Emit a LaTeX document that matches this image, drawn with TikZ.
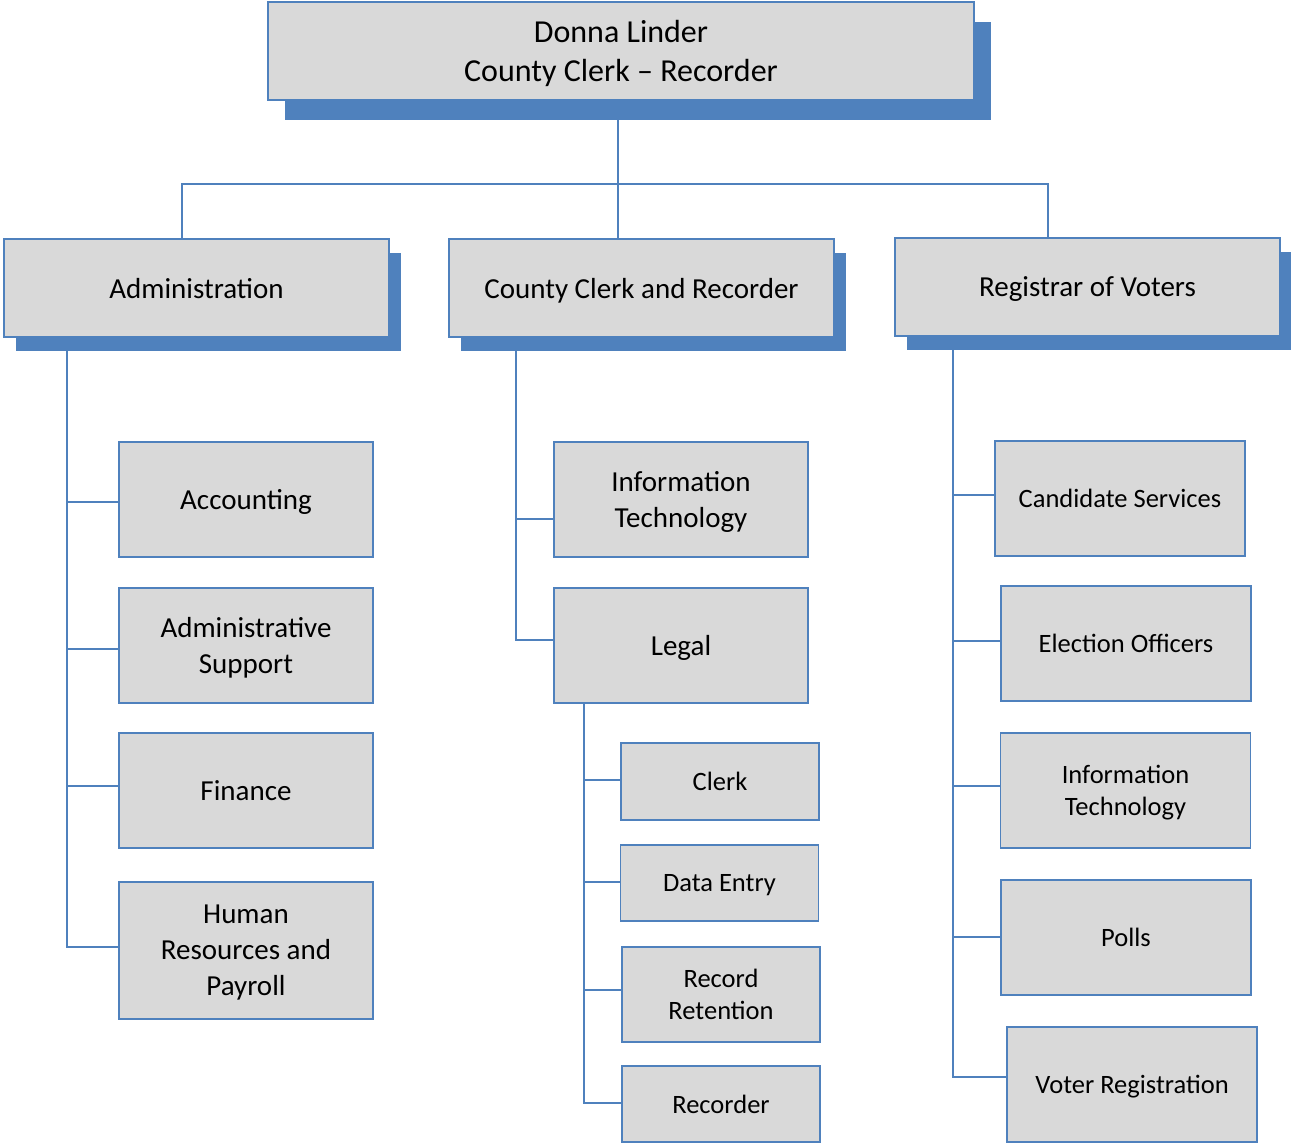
\documentclass[tikz,border=0pt]{standalone}
\usepackage{fontspec}
\setmainfont{Carlito}
\usepackage{tikz}
\usetikzlibrary{shadows,backgrounds}
\definecolor{ocblue}{HTML}{4F81BD}
\definecolor{ocgray}{HTML}{D9D9D9}

\begin{document}
\begin{tikzpicture}[
  x=1pt, y=-1pt,
  box/.style={draw=ocblue, line width=1.6pt, fill=ocgray, align=center, inner sep=0pt, text depth=0pt, font=\fontsize{29}{36}\selectfont},
  unit/.style={box, minimum width=385, minimum height=98, drop shadow={shadow xshift=12pt, shadow yshift=-14pt, fill=ocblue, opacity=1}},
  sub/.style={box, minimum width=254, minimum height=115},
  desk/.style={box, minimum width=198, minimum height=76, font=\fontsize{26.5}{32.3}\selectfont},
  post/.style={box, minimum width=250, minimum height=115, font=\fontsize{26.5}{32.3}\selectfont},
  link/.style={ocblue, line width=1.6pt}
]
\useasboundingbox (0,0) rectangle (1291,1144);
\node[box, minimum width=706, minimum height=98, font=\fontsize{32}{39}\selectfont,
  drop shadow={shadow xshift=17pt, shadow yshift=-20pt, fill=ocblue, opacity=1}] (head) at (621,51) {Donna Linder\\County Clerk – Recorder};
\node[unit] (adm) at (196.5,288) {Administration};
\node[unit] (ccr) at (641.5,288) {County Clerk and Recorder};
\node[unit] (rov) at (1087.5,287) {Registrar of Voters};
% administration
\node[sub] (acct) at (246,499.5) {Accounting};
\node[sub] (adsup) at (246,645.5) {Administrative\\Support};
\node[sub] (fin) at (246,790.5) {Finance};
\node[sub, minimum height=137] (hr) at (246,950.5) {Human\\Resources and\\Payroll};
% clerk and recorder
\node[sub] (it) at (681,499.5) {Information\\Technology};
\node[sub] (legal) at (681,645.5) {Legal};
\node[desk, minimum height=77] (clk) at (720,781.5) {Clerk};
\node[desk] (dent) at (719.5,883) {Data Entry};
\node[desk, minimum height=95] (rret) at (721,994.5) {Record\\Retention};
\node[desk] (rcdr) at (721,1104) {Recorder};
% registrar
\node[post] (cand) at (1120,498.5) {Candidate Services};
\node[post] (elec) at (1126,643.5) {Election Officers};
\node[post] (itv) at (1125.5,790.5) {Information\\Technology};
\node[post] (polls) at (1126,937.5) {Polls};
\node[post] (vreg) at (1132,1084.5) {Voter Registration};
\begin{scope}[on background layer]
\draw[link] ([xshift=-3]head.south) -- ([xshift=-23.5]ccr.north);
\draw[link] ([xshift=-14.5]adm.north) |- ([xshift=-3,yshift=-83]head.south) -| ([xshift=-39.5]rov.north);
\foreach \n/\dy in {acct/-2.5, adsup/-3.5, fin/4.5, hr/3.5}
  \draw[link] ([xshift=-129.5]adm.south) |- ([yshift=\dy]\n.west);
\foreach \n/\dy in {it/-19.5, legal/5.5}
  \draw[link] ([xshift=-125.5]ccr.south) |- ([yshift=\dy]\n.west);
\foreach \n/\dy in {clk/1.5, dent/1, rret/4.5, rcdr/1}
  \draw[link] ([xshift=-97]legal.south) |- ([yshift=\dy]\n.west);
\foreach \n/\dy in {cand/3.5, elec/2.5, itv/4.5, polls/0.5, vreg/7.5}
  \draw[link] ([xshift=-134.5]rov.south) |- ([yshift=\dy]\n.west);
\end{scope}
\end{tikzpicture}
\end{document}
